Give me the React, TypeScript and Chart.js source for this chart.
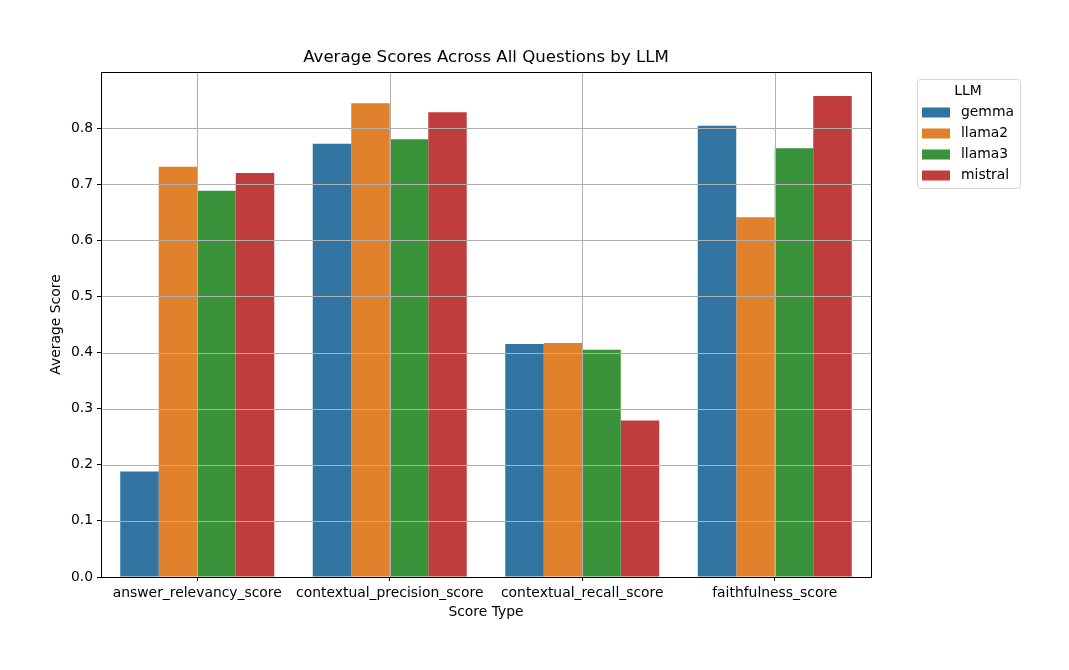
import React, { useEffect, useRef } from "react";
import { Chart, registerables } from "chart.js";

Chart.register(...registerables);

const categories = [
  "answer_relevancy_score",
  "contextual_precision_score",
  "contextual_recall_score",
  "faithfulness_score",
];
const llms = ["gemma", "llama2", "llama3", "mistral"];
const gemma = [0.188, 0.772, 0.415, 0.804];
const llama2 = [0.731, 0.844, 0.417, 0.641];
const llama3 = [0.688, 0.780, 0.405, 0.764];
const mistral = [0.720, 0.828, 0.279, 0.857];
const colors = ["#3274a1", "#e1812c", "#3a923a", "#c03d3e"];
const yTicks = [0, 0.1, 0.2, 0.3, 0.4, 0.5, 0.6, 0.7, 0.8];

const FONT = "'DejaVu Sans', sans-serif";
const FS = 13.9;

const overlay = {
  id: "overlay",
  afterDatasetsDraw(chart: any) {
    const { ctx, chartArea: a, scales } = chart;
    const xs = scales.x;
    const ys = scales.y;
    ctx.save();
    ctx.strokeStyle = "#b0b0b0";
    ctx.lineWidth = 1;
    ctx.beginPath();
    yTicks.forEach((v) => {
      const y = Math.round(ys.getPixelForValue(v)) + 0.5;
      ctx.moveTo(a.left, y);
      ctx.lineTo(a.right, y);
    });
    categories.forEach((_, i) => {
      const x = Math.round(xs.getPixelForValue(i)) + 0.5;
      ctx.moveTo(x, a.top);
      ctx.lineTo(x, a.bottom);
    });
    ctx.stroke();
    ctx.strokeStyle = "#000";
    ctx.lineWidth = 1;
    ctx.strokeRect(Math.round(a.left) + 0.5, Math.round(a.top) + 0.5, Math.round(a.right - a.left), Math.round(a.bottom - a.top));
    ctx.fillStyle = "#000";
    ctx.textAlign = "center";
    ctx.textBaseline = "middle";
    ctx.font = `16.6px ${FONT}`;
    const cx = (a.left + a.right) / 2;
    ctx.fillText("Average Scores Across All Questions by LLM", cx, 58);
    ctx.font = `${FS}px ${FONT}`;
    ctx.fillText("Score Type", cx, 612.5);
    ctx.save();
    ctx.translate(56, (a.top + a.bottom) / 2);
    ctx.rotate(-Math.PI / 2);
    ctx.fillText("Average Score", 0, 0);
    ctx.restore();
    const lx = 917, ly = 79.5, lw = 103, lh = 109;
    ctx.fillStyle = "rgba(255,255,255,0.8)";
    ctx.strokeStyle = "#d6d6d6";
    ctx.lineWidth = 1;
    ctx.beginPath();
    (ctx as any).roundRect(lx + 0.5, ly, lw, lh, 3);
    ctx.fill();
    ctx.stroke();
    ctx.fillStyle = "#000";
    ctx.textAlign = "center";
    ctx.fillText("LLM", 968, 91);
    ctx.textAlign = "left";
    const rows = [112.5, 133.5, 154.5, 175.5];
    llms.forEach((name, i) => {
      ctx.fillStyle = colors[i];
      ctx.fillRect(922, rows[i] - 5, 28, 10);
      ctx.fillStyle = "#000";
      ctx.fillText(name, 961, rows[i]);
    });
    ctx.restore();
  },
};

export default function App() {
  const ref = useRef<HTMLCanvasElement>(null);
  useEffect(() => {
    if (!ref.current) return;
    const series = [gemma, llama2, llama3, mistral];
    const chart = new Chart(ref.current, {
      type: "bar",
      data: {
        labels: categories,
        datasets: llms.map((name, i) => ({
          label: name,
          data: series[i],
          backgroundColor: colors[i],
          borderWidth: 0,
          categoryPercentage: 0.8,
          barPercentage: 1.0,
        })),
      },
      options: {
        responsive: false,
        animation: false,
        devicePixelRatio: 1,
        layout: { padding: { left: 0, top: 72, right: 198, bottom: 0 } },
        plugins: {
          legend: { display: false },
          title: { display: false },
          tooltip: { enabled: false },
        },
        scales: {
          x: {
            offset: true,
            grid: {
              offset: false,
              color: "rgba(0,0,0,0)",
              drawTicks: true,
              tickLength: 4,
              tickColor: "#000",
            },
            border: { display: true, color: "#000" },
            ticks: {
              color: "#000",
              padding: 4,
              maxRotation: 0,
              autoSkip: false,
              font: { family: FONT, size: FS },
            },
            afterFit: (s: any) => {
              s.height = 93;
            },
          },
          y: {
            min: 0,
            max: 0.8998,
            grid: {
              color: "rgba(0,0,0,0)",
              drawTicks: true,
              tickLength: 4,
              tickColor: "#000",
            },
            border: { display: true, color: "#000" },
            afterBuildTicks: (s: any) => {
              s.ticks = yTicks.map((v) => ({ value: v }));
            },
            ticks: {
              color: "#000",
              padding: 4,
              font: { family: FONT, size: FS },
              callback: (v: any) => Number(v).toFixed(1),
            },
            afterFit: (s: any) => {
              s.width = 101;
            },
          },
        },
      },
      plugins: [overlay],
    });
    return () => chart.destroy();
  }, []);
  return (
    <canvas
      ref={ref}
      width={1069}
      height={670}
      style={{ position: "absolute", left: 0, top: 0, width: 1069, height: 670 }}
    />
  );
}
